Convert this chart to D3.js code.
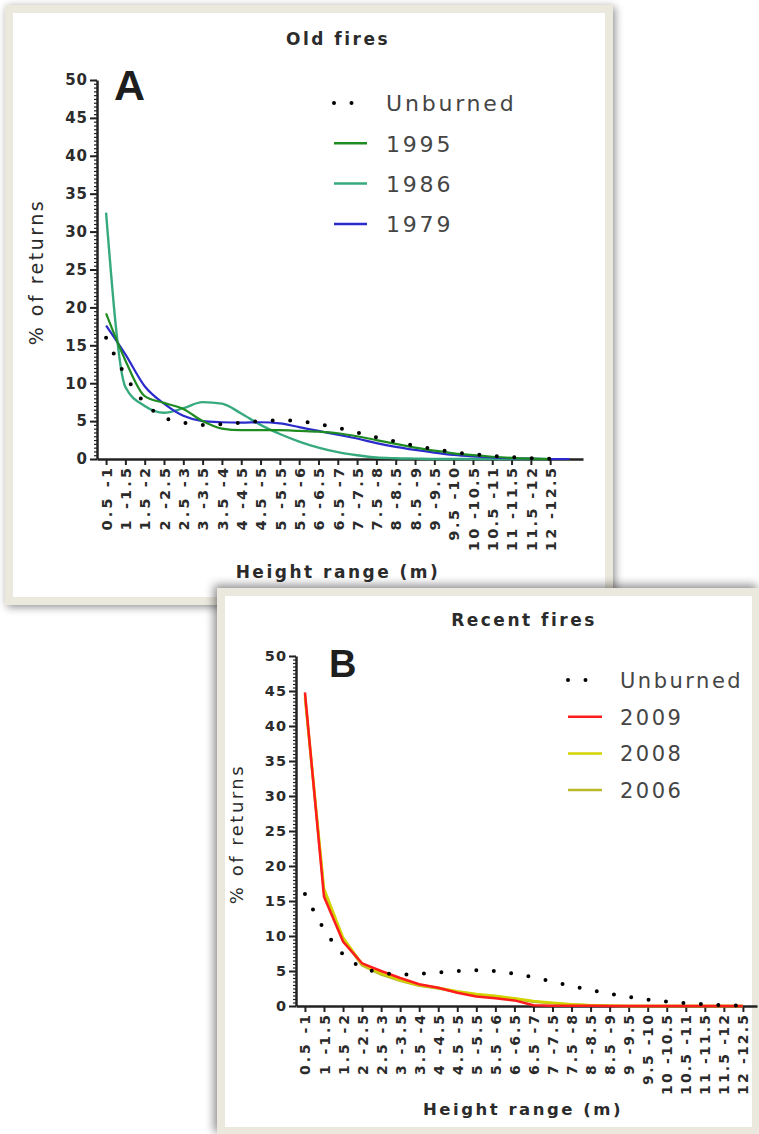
<!DOCTYPE html>
<html>
<head>
<meta charset="utf-8">
<script src="https://cdn.jsdelivr.net/npm/d3@7"></script>
<style>
  body { margin: 0; background: #fff; }
  svg text { font-family: "DejaVu Sans", Verdana, sans-serif; fill: #2b2b2b; }
</style>
</head>
<body>
<svg id="chart" width="759" height="1134"></svg>
<script>
// height classes on the x axis (same for both panels)
const heightRanges = ["0.5 -1", "1 -1.5", "1.5 -2", "2 -2.5", "2.5 -3", "3 -3.5", "3.5 -4", "4 -4.5",
  "4.5 -5", "5 -5.5", "5.5 -6", "6 -6.5", "6.5 -7", "7 -7.5", "7.5 -8", "8 -8.5", "8.5 -9",
  "9 -9.5", "9.5 -10", "10 -10.5", "10.5 -11", "11 -11.5", "11.5 -12", "12 -12.5"];

const yTicks = [0, 5, 10, 15, 20, 25, 30, 35, 40, 45, 50];

// % of returns per height class
const unburned = [16, 11.0, 7.4, 5.5, 4.8, 4.5, 4.6, 4.8, 5.0, 5.1, 5.0, 4.6, 4.1, 3.5, 2.85, 2.3, 1.75, 1.3, 0.9, 0.62, 0.42, 0.25, 0.11, 0.03];

// old fires
const fire1995 = [19.2, 13.0, 8.3, 7.4, 6.6, 5.0, 4.0, 3.8, 3.8, 3.8, 3.7, 3.6, 3.4, 3.0, 2.5, 2.0, 1.5, 1.1, 0.75, 0.5, 0.3, 0.15, 0.05, 0];
const fire1986 = [32.5, 9.5, 7.0, 6.1, 6.7, 7.5, 7.3, 6.0, 4.5, 3.3, 2.3, 1.5, 0.9, 0.5, 0.2, 0.1, 0.05, 0, 0, 0, 0, 0, 0, 0];
const fire1979 = [17.6, 13.8, 9.6, 7.3, 5.7, 5.0, 4.85, 4.8, 4.85, 4.7, 4.2, 3.7, 3.2, 2.7, 2.1, 1.6, 1.2, 0.85, 0.55, 0.35, 0.2, 0.1, 0.05, 0, 0];

// recent fires
const fire2009 = [44.8, 15.6, 9.2, 6.1, 5.0, 4.0, 3.1, 2.6, 1.9, 1.35, 1.1, 0.8, 0.1, 0.05, 0.03, 0.02, 0.01, 0, 0, 0, 0, 0, 0, 0];
const fire2008 = [44.5, 16.8, 9.8, 6.0, 4.7, 3.7, 3.0, 2.6, 2.1, 1.7, 1.45, 1.1, 0.7, 0.45, 0.25, 0.1, 0.05, 0, 0, 0, 0, 0, 0, 0];
const fire2006 = [44.0, 16.3, 9.5, 5.8, 4.5, 3.6, 2.9, 2.5, 2.0, 1.6, 1.3, 1.0, 0.6, 0.4, 0.2, 0.1, 0.05, 0, 0, 0, 0, 0, 0, 0];

const svg = d3.select("#chart");
const defs = svg.append("defs");

function addShadow(id, dx, dy, blur) {
  defs.append("filter").attr("id", id)
    .attr("x", "-10%").attr("y", "-10%").attr("width", "120%").attr("height", "120%")
    .append("feDropShadow")
    .attr("dx", dx).attr("dy", dy).attr("stdDeviation", blur)
    .attr("flood-color", "#000").attr("flood-opacity", 0.45);
}
addShadow("shadowA", 2, 2, 4);
addShadow("shadowB", -3, -3, 5);

const dotted = { color: "#000", width: 4, dash: "0,17.5", cap: "round", curve: d3.curveMonotoneX };

function drawPanel(p) {
  const g = svg.append("g");

  // frame
  g.append("rect")
    .attr("x", p.frame[0]).attr("y", p.frame[1])
    .attr("width", p.frame[2]).attr("height", p.frame[3])
    .attr("fill", "#ebe9de")
    .attr("filter", `url(#${p.shadow})`);
  g.append("rect")
    .attr("x", p.frame[0] + 8).attr("y", p.frame[1] + 8)
    .attr("width", p.frame[2] - 16).attr("height", p.frame[3] - 16)
    .attr("fill", "#fff");

  const x = d3.scaleLinear().domain([-0.47, p.xEnd]).range([p.left, p.right]);
  const y = d3.scaleLinear().domain([0, 50]).range([p.bottom, p.top]);

  // minor y ticks
  g.append("g")
    .attr("transform", `translate(${p.left},0)`)
    .attr("color", "#222")
    .call(d3.axisLeft(y).tickValues(d3.range(0, 50.01, 0.5)).tickSize(3).tickFormat(""))
    .call(s => s.select(".domain").remove())
    .selectAll("line").attr("stroke-width", 1.2);

  // major y axis
  const yAxis = g.append("g")
    .attr("transform", `translate(${p.left},0)`)
    .attr("color", "#222")
    .call(d3.axisLeft(y).tickValues(yTicks).tickSize(7).tickSizeOuter(0).tickPadding(2));
  yAxis.select(".domain").attr("stroke-width", 2.5);
  yAxis.selectAll("line").attr("stroke-width", 2);
  yAxis.selectAll("text")
    .style("font-size", p.tickFont + "px")
    .style("font-weight", "bold")
    .style("letter-spacing", "1px");

  // x axis, labels turned upright and spread like the original
  const xAxis = g.append("g")
    .attr("transform", `translate(0,${p.bottom})`)
    .attr("color", "#222")
    .call(d3.axisBottom(x).tickValues(d3.range(heightRanges.length))
      .tickFormat(i => heightRanges[i]).tickSize(6).tickSizeOuter(0));
  xAxis.select(".domain").attr("stroke-width", 2.5);
  xAxis.selectAll("line").attr("stroke-width", 2);
  xAxis.selectAll("text")
    .attr("transform", "rotate(-90)")
    .attr("x", -9).attr("y", 0).attr("dy", "0.36em")
    .attr("text-anchor", "end")
    .attr("textLength", i => heightRanges[i].length * p.xCharStep)
    .attr("lengthAdjust", "spacing")
    .style("font-size", p.xTickFont + "px")
    .style("font-weight", "bold");

  // series
  p.series.forEach(s => {
    const line = d3.line()
      .x((d, i) => x(i))
      .y(d => y(d))
      .curve(s.curve || p.curve);
    g.append("path")
      .attr("d", line(s.values))
      .attr("fill", "none")
      .attr("stroke", s.color)
      .attr("stroke-width", s.width)
      .attr("stroke-dasharray", s.dash || null)
      .attr("stroke-linecap", s.cap || "butt")
      .attr("stroke-linejoin", "round");
  });

  // texts
  g.append("text")
    .attr("x", p.titleX).attr("y", p.titleY)
    .attr("text-anchor", "middle")
    .style("font-size", "17px").style("font-weight", "bold")
    .style("letter-spacing", "2.5px")
    .text(p.title);

  g.append("text")
    .attr("x", p.letterX).attr("y", p.letterY)
    .style("font-family", "'Liberation Sans', Arial, sans-serif")
    .style("font-size", p.letterFont + "px").style("font-weight", "bold")
    .style("fill", "#1e1e1e")
    .text(p.letter);

  g.append("text")
    .attr("transform", `translate(${p.yLabelX},${p.yLabelY}) rotate(-90)`)
    .attr("text-anchor", "middle")
    .style("font-size", p.yLabelFont + "px")
    .style("letter-spacing", "2.5px")
    .text("% of returns");

  g.append("text")
    .attr("x", p.xLabelX).attr("y", p.xLabelY)
    .attr("text-anchor", "middle")
    .style("font-size", p.xLabelFont + "px").style("font-weight", "bold")
    .style("letter-spacing", "2.5px")
    .text("Height range (m)");

  // legend
  const lg = g.append("g");
  p.legend.forEach((s, i) => {
    const ly = p.legendY + i * p.legendStep;
    lg.append("line")
      .attr("x1", p.legendX1).attr("x2", p.legendX2)
      .attr("y1", ly).attr("y2", ly)
      .attr("stroke", s.color)
      .attr("stroke-width", s.dash ? 4 : 2.5)
      .attr("stroke-dasharray", s.dash || null)
      .attr("stroke-linecap", s.cap || "butt");
    lg.append("text")
      .attr("x", p.legendTextX).attr("y", ly).attr("dy", "0.38em")
      .style("font-size", p.legendFont + "px")
      .style("letter-spacing", p.legendSpacing + "px")
      .style("fill", "#454545")
      .text(s.name);
  });
}

// panel A: old fires
const seriesA = [
  { name: "Unburned", values: unburned, ...dotted },
  { name: "1995", values: fire1995, color: "#1f8c22", width: 2.2 },
  { name: "1986", values: fire1986, color: "#36aa7e", width: 2.4 },
  { name: "1979", values: fire1979, color: "#2b2bcc", width: 2.2 }
];
drawPanel({
  frame: [5, 5, 608, 600], shadow: "shadowA", curve: d3.curveMonotoneX,
  left: 97, right: 583, top: 80, bottom: 459, xEnd: 24.7,
  tickFont: 15, xTickFont: 14.5, xCharStep: 10.4,
  title: "Old fires", titleX: 338, titleY: 45,
  letter: "A", letterX: 114, letterY: 100, letterFont: 43,
  yLabelX: 43, yLabelY: 272, yLabelFont: 19,
  xLabelX: 338, xLabelY: 578, xLabelFont: 17,
  series: [seriesA[2], seriesA[3], seriesA[1], seriesA[0]],
  legend: seriesA,
  legendX1: 334, legendX2: 367, legendTextX: 386, legendY: 103, legendStep: 40.3,
  legendFont: 22, legendSpacing: 2.8
});

// panel B: recent fires
const seriesB = [
  { name: "Unburned", values: unburned, ...dotted },
  { name: "2009", values: fire2009, color: "#ff1c1c", width: 2.5 },
  { name: "2008", values: fire2008, color: "#d2d400", width: 2.5 },
  { name: "2006", values: fire2006, color: "#b9b92a", width: 2.5 }
];
drawPanel({
  frame: [217, 588, 543, 547], shadow: "shadowB", curve: d3.curveLinear,
  left: 296, right: 757, top: 656, bottom: 1006, xEnd: 23.74,
  tickFont: 14.5, xTickFont: 14, xCharStep: 10,
  title: "Recent fires", titleX: 524, titleY: 626,
  letter: "B", letterX: 329, letterY: 677, letterFont: 38,
  yLabelX: 243, yLabelY: 834, yLabelFont: 18,
  xLabelX: 523, xLabelY: 1115, xLabelFont: 16.5,
  series: [seriesB[3], seriesB[2], seriesB[1], seriesB[0]],
  legend: seriesB,
  legendX1: 568, legendX2: 602, legendTextX: 620, legendY: 680, legendStep: 36.7,
  legendFont: 21, legendSpacing: 2.5
});
</script>
</body>
</html>
